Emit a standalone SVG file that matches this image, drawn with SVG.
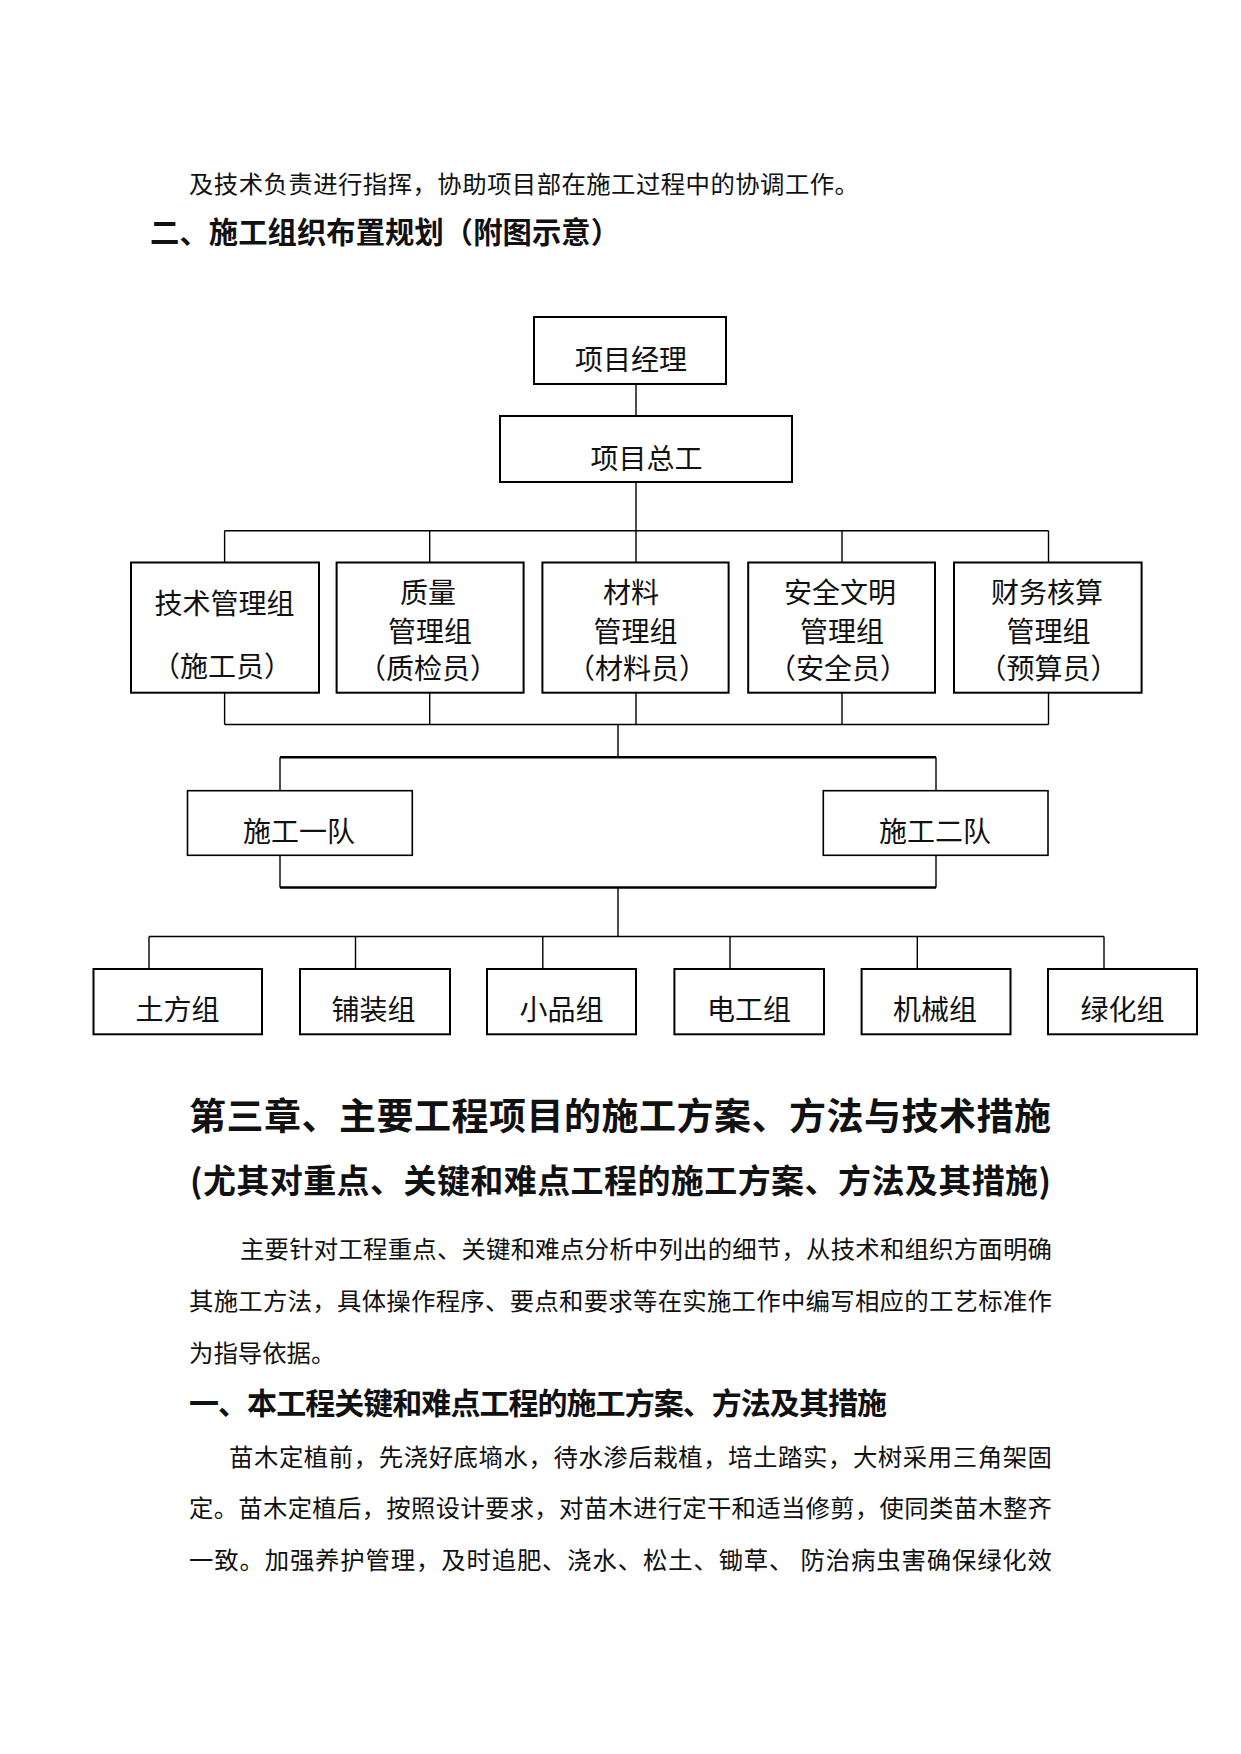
<svg xmlns="http://www.w3.org/2000/svg" width="1241" height="1754" viewBox="0 0 1241 1754">
<style>
  text { font-family: "Noto Sans CJK SC", "Noto Sans CJK JP", sans-serif; fill: #111; }
  .body { font-size: 24.4px; }
  .h2 { font-size: 29.3px; font-weight: bold; }
  .h1 { font-size: 37px; font-weight: bold; }
  .hb { font-size: 33px; font-weight: bold; }
  .node rect { fill: #fff; stroke: #000; stroke-width: 2; }
  .node text { font-size: 28px; text-anchor: middle; }
  .conn line { stroke: #000; stroke-width: 1.4; }
  .conn line.thick { stroke-width: 2.6; }
</style>
<rect width="1241" height="1754" fill="#fff"/>

<text class="body" x="189" y="193" textLength="670" lengthAdjust="spacing">及技术负责进行指挥，协助项目部在施工过程中的协调工作。</text>
<text class="h2" x="150" y="243" textLength="470" lengthAdjust="spacing">二、施工组织布置规划（附图示意）</text>

<g class="conn" id="connectors">
  <line x1="636" y1="384" x2="636" y2="416"/>
  <line x1="636" y1="482" x2="636" y2="530.7"/>
  <line x1="224.6" y1="530.7" x2="1048.5" y2="530.7"/>
  <line x1="224.6" y1="530.7" x2="224.6" y2="562.5"/>
  <line x1="429.7" y1="530.7" x2="429.7" y2="562.5"/>
  <line x1="636" y1="530.7" x2="636" y2="562.5"/>
  <line x1="842" y1="530.7" x2="842" y2="562.5"/>
  <line x1="1048.5" y1="530.7" x2="1048.5" y2="562.5"/>
  <line x1="224.6" y1="692.7" x2="224.6" y2="724.5"/>
  <line x1="429.7" y1="692.7" x2="429.7" y2="724.5"/>
  <line x1="636" y1="692.7" x2="636" y2="724.5"/>
  <line x1="842" y1="692.7" x2="842" y2="724.5"/>
  <line x1="1048.5" y1="692.7" x2="1048.5" y2="724.5"/>
  <line x1="224.6" y1="724.5" x2="1048.5" y2="724.5"/>
  <line x1="618" y1="724.5" x2="618" y2="757.3"/>
  <line class="thick" x1="280" y1="757.3" x2="936" y2="757.3"/>
  <line x1="280" y1="757.3" x2="280" y2="790.7"/>
  <line x1="936" y1="757.3" x2="936" y2="790.7"/>
  <line x1="280" y1="855.3" x2="280" y2="887.5"/>
  <line x1="936" y1="855.3" x2="936" y2="887.5"/>
  <line class="thick" x1="280" y1="887.5" x2="936" y2="887.5"/>
  <line x1="618" y1="887.5" x2="618" y2="936.5"/>
  <line x1="149" y1="936.5" x2="1104" y2="936.5"/>
  <line x1="149" y1="936.5" x2="149" y2="969"/>
  <line x1="355.5" y1="936.5" x2="355.5" y2="969"/>
  <line x1="542.8" y1="936.5" x2="542.8" y2="969"/>
  <line x1="730" y1="936.5" x2="730" y2="969"/>
  <line x1="917.3" y1="936.5" x2="917.3" y2="969"/>
  <line x1="1104" y1="936.5" x2="1104" y2="969"/>
</g>

<g class="node" id="n-pm"><rect x="534" y="317" width="192" height="67"/><text x="631" y="369.6">项目经理</text></g>
<g class="node" id="n-ce"><rect x="500" y="416" width="292" height="66"/><text x="646.5" y="468.6">项目总工</text></g>

<g class="node" id="n-tech"><rect x="131" y="562.5" width="188" height="130.2"/>
  <text x="224.5" y="613.6">技术管理组</text><text x="222" y="677">（施工员）</text></g>
<g class="node" id="n-qual"><rect x="336.6" y="562.5" width="187" height="130.2"/>
  <text x="428" y="603">质量</text><text x="430" y="641.5">管理组</text><text x="428" y="679">（质检员）</text></g>
<g class="node" id="n-mat"><rect x="542.4" y="562.5" width="186.2" height="130.2"/>
  <text x="631" y="603">材料</text><text x="635.5" y="641.5">管理组</text><text x="637" y="679">（材料员）</text></g>
<g class="node" id="n-safe"><rect x="748.2" y="562.5" width="186.8" height="130.2"/>
  <text x="840" y="603">安全文明</text><text x="842" y="641.5">管理组</text><text x="838" y="679">（安全员）</text></g>
<g class="node" id="n-fin"><rect x="954" y="562.5" width="187.6" height="130.2"/>
  <text x="1047" y="603">财务核算</text><text x="1048.5" y="641.5">管理组</text><text x="1048.5" y="679">（预算员）</text></g>

<g class="node" id="n-team1"><rect x="187.5" y="790.7" width="224.8" height="64.6" style="stroke-width:1.6"/><text x="299" y="841.6">施工一队</text></g>
<g class="node" id="n-team2"><rect x="823.3" y="790.7" width="224.7" height="64.6" style="stroke-width:1.6"/><text x="935" y="841.6">施工二队</text></g>

<g class="node" id="n-earth"><rect x="93.5" y="969" width="168.5" height="65.3"/><text x="177.5" y="1020">土方组</text></g>
<g class="node" id="n-pave"><rect x="300" y="969" width="150" height="65.3"/><text x="373.6" y="1020">铺装组</text></g>
<g class="node" id="n-small"><rect x="487" y="969" width="149" height="65.3"/><text x="561.5" y="1020">小品组</text></g>
<g class="node" id="n-elec"><rect x="674.4" y="969" width="149.6" height="65.3"/><text x="749" y="1020">电工组</text></g>
<g class="node" id="n-mech"><rect x="861.6" y="969" width="148.9" height="65.3"/><text x="935" y="1020">机械组</text></g>
<g class="node" id="n-green"><rect x="1048" y="969" width="149" height="65.3"/><text x="1122.5" y="1020">绿化组</text></g>

<text class="h1" x="189" y="1130" textLength="862" lengthAdjust="spacing">第三章、主要工程项目的施工方案、方法与技术措施</text>
<text class="hb" x="190" y="1192.5" textLength="861" lengthAdjust="spacing">(尤其对重点、关键和难点工程的施工方案、方法及其措施)</text>

<text class="body" x="240" y="1258.3" textLength="812" lengthAdjust="spacing">主要针对工程重点、关键和难点分析中列出的细节，从技术和组织方面明确</text>
<text class="body" x="189" y="1310.3" textLength="863" lengthAdjust="spacing">其施工方法，具体操作程序、要点和要求等在实施工作中编写相应的工艺标准作</text>
<text class="body" x="189" y="1362.3">为指导依据。</text>
<text class="h2" x="189" y="1414" style="font-size:30px" textLength="698" lengthAdjust="spacing">一、本工程关键和难点工程的施工方案、方法及其措施</text>
<text class="body" x="229" y="1466.3" textLength="823" lengthAdjust="spacing">苗木定植前，先浇好底墒水，待水渗后栽植，培土踏实，大树采用三角架固</text>
<text class="body" x="189" y="1517.3" textLength="863" lengthAdjust="spacing">定。苗木定植后，按照设计要求，对苗木进行定干和适当修剪，使同类苗木整齐</text>
<text class="body" x="189" y="1569.3" textLength="863" lengthAdjust="spacing" xml:space="preserve">一致。加强养护管理，及时追肥、浇水、松土、锄草、 防治病虫害确保绿化效</text>
</svg>
